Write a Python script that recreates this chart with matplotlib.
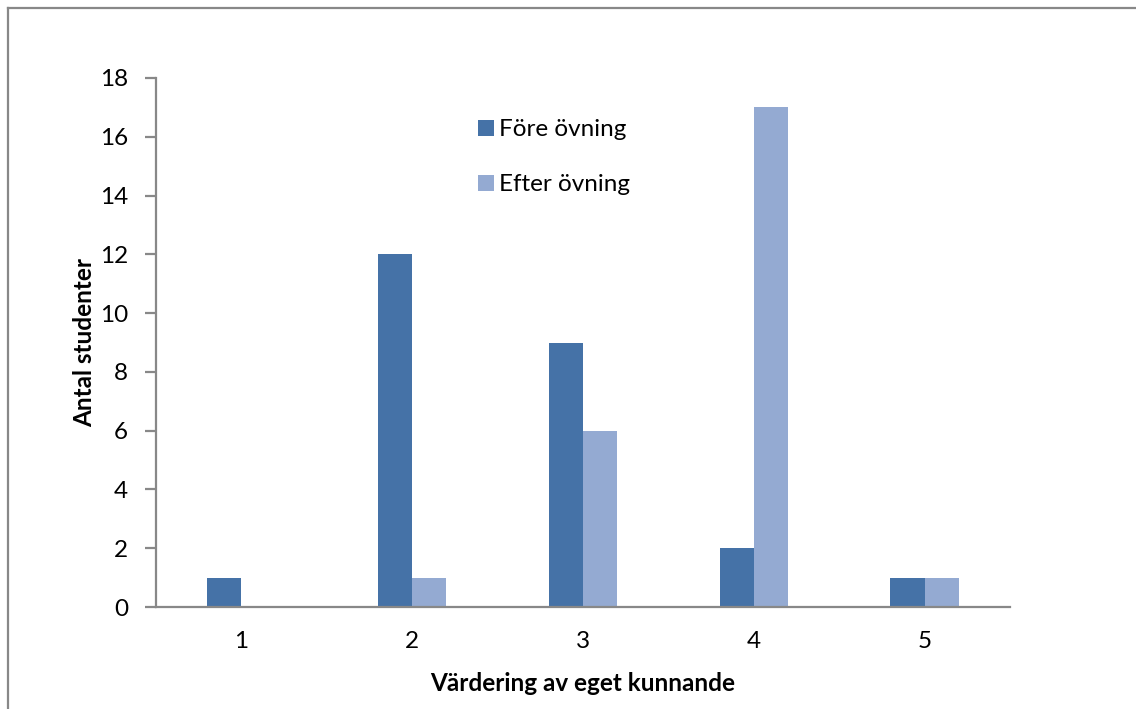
import numpy as np
import matplotlib
matplotlib.use("Agg")
import matplotlib.pyplot as plt
from matplotlib.lines import Line2D

# survey answers: self-rated skill (1-5) before and after the exercise
ratings = ["1", "2", "3", "4", "5"]
before = [1, 12, 9, 2, 1]
after = [0, 1, 6, 17, 1]

plt.rcParams["font.family"] = ["Lato", "DejaVu Sans"]
fs = 17.5

fig = plt.figure(figsize=(11.36, 7.09), dpi=100)
ax = fig.add_axes([156 / 1136, 1 - 607 / 709, 854 / 1136, 529 / 709])

x = np.arange(len(ratings))
w = 0.2
ax.bar(x - w / 2, before, w, color="#4572A7", label="Före övning")
ax.bar(x + w / 2, after, w, color="#94AAD2", label="Efter övning")

ax.set_xlim(-0.5, len(ratings) - 0.5)
ax.set_ylim(0, 18)
ax.set_yticks(range(0, 19, 2))
ax.set_xticks(x)
ax.set_xticklabels(ratings)

for s in ["top", "right"]:
    ax.spines[s].set_visible(False)
for s in ["left", "bottom"]:
    ax.spines[s].set_color("#888888")
    ax.spines[s].set_linewidth(1.6)

ax.tick_params(axis="y", direction="out", length=8, width=1.6, color="#888888",
               labelsize=fs, pad=12)
ax.tick_params(axis="x", length=0, labelsize=fs, pad=17)

ax.set_xlabel("Värdering av eget kunnande", fontsize=fs, fontweight="bold")
ax.set_ylabel("Antal studenter", fontsize=fs, fontweight="bold")
ax.xaxis.set_label_coords(0.5, -0.122)
ax.yaxis.set_label_coords(-0.07, 0.5)

ax.legend(loc="upper left", bbox_to_anchor=(0.366, 0.94), frameon=False,
          fontsize=fs, handlelength=0.65, handleheight=0.65, handletextpad=0.2,
          labelspacing=1.4, borderaxespad=0)

# outer chart frame (only left and top edges are in view)
fig.add_artist(Line2D([8 / 1136, 8 / 1136], [0, 1 - 8 / 709], color="#888888", lw=1.6))
fig.add_artist(Line2D([8 / 1136, 1], [1 - 8 / 709, 1 - 8 / 709], color="#888888", lw=1.6))

fig.savefig("out.png", dpi=100, facecolor="white")
